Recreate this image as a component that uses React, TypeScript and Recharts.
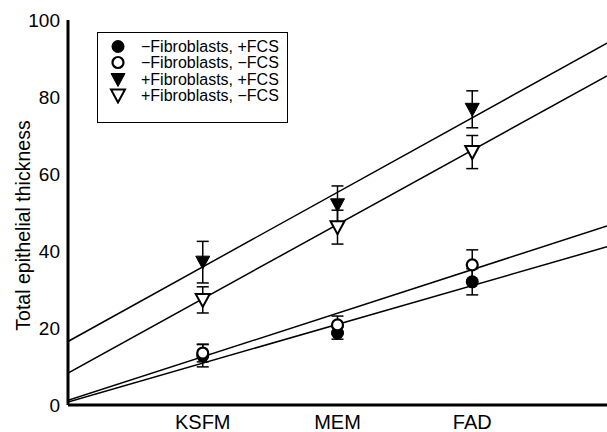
import React from "react";
import {
  ComposedChart,
  XAxis,
  YAxis,
  Line,
  Scatter,
  ErrorBar,
  Legend,
} from "recharts";

const categories = ["KSFM", "MEM", "FAD"];
const categoryX = [1, 2, 3];
const yTicks = [0, 20, 40, 60, 80, 100];

const seriesNames = [
  "\u2212Fibroblasts, +FCS",
  "\u2212Fibroblasts, \u2212FCS",
  "+Fibroblasts, +FCS",
  "+Fibroblasts, \u2212FCS",
];

// measured means and error (per medium)
const noFibFcs = [12.8, 18.7, 32.0];
const noFibFcsErr = [2.9, 1.6, 3.4];
const noFibNoFcs = [13.5, 20.8, 36.4];
const noFibNoFcsErr = [2.3, 2.3, 3.9];
const fibFcs = [37.1, 52.0, 76.8];
const fibFcsErr = [5.4, 4.9, 4.8];
const fibNoFcs = [27.3, 46.2, 65.7];
const fibNoFcsErr = [3.4, 4.4, 4.3];

// fitted lines, value at x = 0 and x = 4
const fitX = [0, 4];
const fitStart = [0.8, 1.2, 16.5, 8.3];
const fitEnd = [41.1, 46.5, 94.0, 85.5];

const FONT = "'Liberation Sans', Arial, Helvetica, sans-serif";

const toPoints = (vals: number[], errs: number[]) =>
  vals.map((v, i) => ({ x: categoryX[i], y: v, err: errs[i] }));

const fitLine = (i: number) => [
  { x: fitX[0], y: fitStart[i] },
  { x: fitX[1], y: fitEnd[i] },
];

type Kind = "dot" | "ring" | "tri" | "otri";
const kinds: Kind[] = ["dot", "ring", "tri", "otri"];

function Marker({ kind, cx, cy }: { kind: Kind; cx: number; cy: number }) {
  if (kind === "dot") return <circle cx={cx} cy={cy} r={6.5} fill="#000" />;
  if (kind === "ring")
    return <circle cx={cx} cy={cy} r={5.5} fill="#fff" stroke="#000" strokeWidth={2.2} />;
  const d = `M${cx - 7},${cy - 6}L${cx + 7},${cy - 6}L${cx},${cy + 7}Z`;
  if (kind === "tri") return <path d={d} fill="#000" stroke="#000" strokeWidth={1} />;
  return <path d={d} fill="#fff" stroke="#000" strokeWidth={2} strokeLinejoin="miter" />;
}

const shapeFor = (kind: Kind) => (props: any) =>
  <Marker kind={kind} cx={props.cx} cy={props.cy} />;

function LegendBox() {
  return (
    <div
      style={{
        border: "1px solid #000",
        background: "#fff",
        padding: "5px 0 18px 0",
        fontFamily: FONT,
        fontSize: 16,
        color: "#000",
      }}
    >
      {seriesNames.map((name, i) => (
        <div key={name} style={{ display: "flex", alignItems: "center", height: 16.5 }}>
          <svg width={40} height={17}>
            <Marker kind={kinds[i]} cx={20} cy={8.5} />
          </svg>
          <span style={{ marginLeft: 3, lineHeight: "17px" }}>{name}</span>
        </div>
      ))}
    </div>
  );
}

const series = [
  { pts: toPoints(noFibFcs, noFibFcsErr) },
  { pts: toPoints(noFibNoFcs, noFibNoFcsErr) },
  { pts: toPoints(fibFcs, fibFcsErr) },
  { pts: toPoints(fibNoFcs, fibNoFcsErr) },
];

export default function App() {
  return (
    <div style={{ position: "absolute", left: 0, top: 0, width: 607, height: 432, background: "#fff" }}>
      <ComposedChart
        width={607}
        height={432}
        margin={{ top: 20, right: 0, bottom: 0, left: 0 }}
      >
        <XAxis
          type="number"
          dataKey="x"
          domain={[0, 4]}
          ticks={categoryX}
          tickFormatter={(v: number) => categories[categoryX.indexOf(v)] ?? ""}
          allowDataOverflow
          axisLine={{ stroke: "#000", strokeWidth: 3 }}
          tickLine={false}
          tickSize={6}
          tickMargin={4}
          height={27}
          tick={{ fill: "#000", fontSize: 20, fontFamily: FONT }}
        />
        <YAxis
          type="number"
          domain={[0, 100]}
          ticks={yTicks}
          allowDataOverflow
          axisLine={{ stroke: "#000", strokeWidth: 3 }}
          tickLine={false}
          width={68}
          tick={{ fill: "#000", fontSize: 19, fontFamily: FONT }}
          label={{
            value: "Total epithelial thickness",
            angle: -90,
            position: "center",
            dx: -11,
            dy: 13,
            style: { fill: "#000", fontSize: 19.5, fontFamily: FONT, textAnchor: "middle" },
          }}
        />
        {series.map((_, i) => (
          <Line
            key={`fit-${i}`}
            data={fitLine(i)}
            dataKey="y"
            stroke="#000"
            strokeWidth={1.5}
            dot={false}
            activeDot={false}
            legendType="none"
            isAnimationActive={false}
          />
        ))}
        {series.map((s, i) => (
          <Scatter
            key={`pts-${i}`}
            name={seriesNames[i]}
            data={s.pts}
            dataKey="y"
            shape={shapeFor(kinds[i])}
            isAnimationActive={false}
          >
            <ErrorBar dataKey="err" direction="y" width={6} stroke="#000" strokeWidth={1.5} />
          </Scatter>
        ))}
        <Legend
          layout="vertical"
          align="center"
          verticalAlign="middle"
          content={() => <LegendBox />}
          wrapperStyle={{ left: 97, top: 32, width: 191, height: "auto" }}
        />
      </ComposedChart>
    </div>
  );
}
